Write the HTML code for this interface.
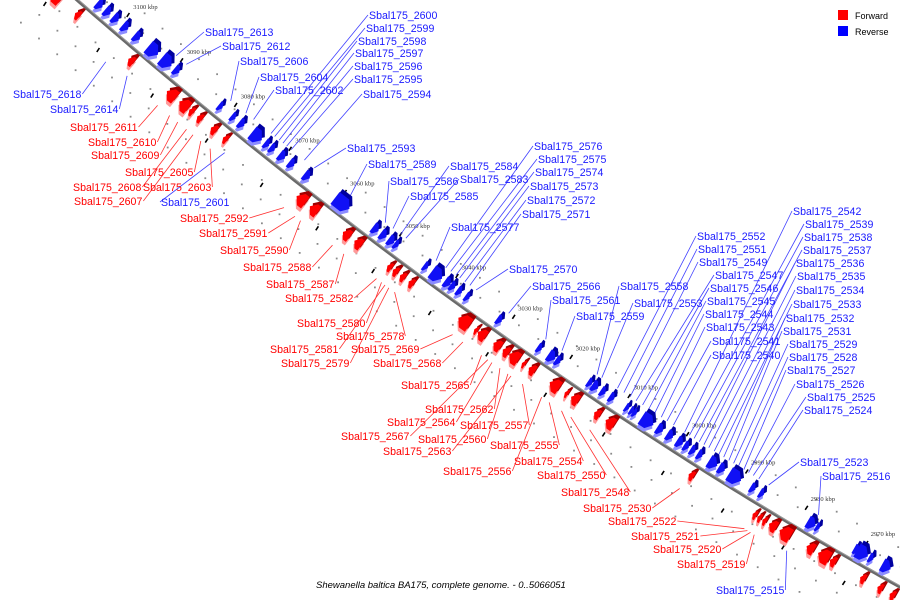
<!DOCTYPE html>
<html><head><meta charset="utf-8">
<style>
html,body{margin:0;padding:0;background:#fff;width:900px;height:600px;overflow:hidden;}
svg{display:block;overflow:hidden;}
.lbl{font-family:"Liberation Sans",sans-serif;font-size:10.6px;}
.tk{font-family:"Liberation Serif",serif;font-size:6.5px;fill:#333;}
</style></head>
<body>
<svg id="chart" width="900" height="600" viewBox="0 0 900 600" xmlns="http://www.w3.org/2000/svg">
<g id="dots"></g>
<g id="axis"></g>
<g id="leaders"></g>
<g id="genes"></g>
<g id="labels"></g>
<g>
<rect x="838" y="10" width="10" height="10" fill="#ff0000"/>
<text x="855" y="19" style="font-family:'Liberation Sans',sans-serif;font-size:9px">Forward</text>
<rect x="838" y="26" width="10" height="10" fill="#0000ff"/>
<text x="855" y="35" style="font-family:'Liberation Sans',sans-serif;font-size:9px">Reverse</text>
</g>
<text x="316" y="588" style="font-family:'Liberation Sans',sans-serif;font-size:9.5px;font-style:italic">Shewanella baltica BA175, complete genome. - 0..5066051</text>
</svg>
<script>
// ---- data ----
const tickKbp = [3110,3100,3090,3080,3070,3060,3050,3040,3030,3020,3010,3000,2990,2980,2970,2960];
const tickLabels = ["3110 kbp","3100 kbp","3090 kbp","3080 kbp","3070 kbp","3060 kbp","3050 kbp","3040 kbp","3030 kbp","3020 kbp","3010 kbp","3000 kbp","2990 kbp","2980 kbp","2970 kbp","2960 kbp"];
const reverseKbp = [3104.0,3102.5,3101.0,3099.2,3097.0,3094.0,3091.5,3089.6,3081.5,3079.1,3077.6,3074.8,3073.0,3072.0,3070.2,3068.5,3065.7,3059.3,3053.3,3051.9,3050.5,3049.6,3044.4,3042.4,3040.5,3039.6,3038.4,3037.0,3031.4,3024.4,3022.3,3021.2,3015.7,3014.8,3013.4,3011.9,3009.3,3008.5,3008.0,3005.8,3003.7,3002.0,3000.3,2999.2,2998.1,2996.9,2994.7,2993.2,2991.0,2988.0,2986.5,2978.2,2977.2,2970.8,2969.8,2968.4,2965.9];
const reverseLen = [1.0,1.0,1.0,1.0,1.0,1.8,1.8,0.9,0.7,0.7,0.9,1.8,0.8,0.8,1.0,0.9,1.0,2.6,1.0,1.0,1.0,0.7,0.7,1.8,1.0,0.8,0.8,0.7,0.8,0.7,1.2,0.8,0.7,1.0,0.8,0.8,0.6,0.6,0.6,2.0,1.0,1.0,1.0,0.8,0.8,0.8,1.4,1.0,2.0,0.8,0.7,1.3,0.6,0.8,1.8,0.7,1.4];
const forwardKbp = [3109.6,3105.5,3095.5,3088.0,3085.7,3084.3,3082.8,3080.2,3078.1,3064.3,3062.0,3056.2,3054.1,3048.5,3047.5,3046.2,3044.7,3035.4,3033.3,3032.3,3029.6,3028.1,3026.7,3025.0,3023.6,3019.7,3017.6,3016.2,3012.4,3010.2,2996.4,2985.8,2985.0,2984.2,2982.8,2980.8,2976.6,2974.4,2972.9,2968.0,2965.2,2963.2];
const forwardLen = [1.8,0.8,0.9,1.6,1.6,0.7,0.8,0.9,0.7,1.6,1.4,1.2,1.2,0.7,0.8,0.8,0.8,1.9,0.5,1.3,1.2,1.0,1.6,0.5,1.0,1.6,0.5,1.2,0.9,1.4,0.8,0.6,0.6,0.6,1.2,1.8,1.2,1.8,0.9,0.8,0.8,0.8];

const blueNames = ["Sbal175_2613","Sbal175_2612","Sbal175_2606","Sbal175_2604","Sbal175_2602","Sbal175_2618","Sbal175_2614","Sbal175_2600","Sbal175_2599","Sbal175_2598","Sbal175_2597","Sbal175_2596","Sbal175_2595","Sbal175_2594","Sbal175_2593","Sbal175_2589","Sbal175_2586","Sbal175_2585","Sbal175_2584","Sbal175_2583","Sbal175_2577","Sbal175_2576","Sbal175_2575","Sbal175_2574","Sbal175_2573","Sbal175_2572","Sbal175_2571","Sbal175_2570","Sbal175_2566","Sbal175_2561","Sbal175_2559","Sbal175_2558","Sbal175_2553","Sbal175_2552","Sbal175_2551","Sbal175_2549","Sbal175_2547","Sbal175_2546","Sbal175_2545","Sbal175_2544","Sbal175_2543","Sbal175_2541","Sbal175_2540","Sbal175_2542","Sbal175_2539","Sbal175_2538","Sbal175_2537","Sbal175_2536","Sbal175_2535","Sbal175_2534","Sbal175_2533","Sbal175_2532","Sbal175_2531","Sbal175_2529","Sbal175_2528","Sbal175_2527","Sbal175_2526","Sbal175_2525","Sbal175_2524","Sbal175_2523","Sbal175_2516","Sbal175_2515","Sbal175_2601"];
const blueX = [205,222,240,260,275,13,50,369,366,358,355,354,354,363,347,368,390,410,450,460,451,534,538,535,530,527,522,509,532,552,576,620,634,697,698,699,715,710,707,705,706,712,712,793,805,804,803,796,797,796,793,786,783,789,789,787,796,807,804,800,822,716,161];
const blueY = [36,50,65,81,94,98,113,19,32,45,57,70,83,98,152,168,185,200,170,183,231,150,163,176,190,204,218,273,290,304,320,290,307,240,253,266,279,292,305,318,331,345,359,215,228,241,254,267,280,294,308,322,335,348,361,374,388,401,414,466,480,594,206];
const blueAnchorKbp = [3091.0,3089.1,3080.9,3078.1,3076.7,3098.1,3094.5,3073.5,3072.8,3072.0,3071.3,3070.6,3069.8,3067.4,3065.6,3059.1,3052.8,3051.4,3050.0,3049.1,3043.7,3042.0,3041.1,3040.2,3039.5,3038.6,3037.7,3036.6,3030.9,3024.4,3021.6,3015.5,3014.7,3012.0,3010.9,3009.8,3008.8,3007.7,3006.6,3005.6,3004.5,3003.5,3002.4,3000.5,2999.7,2998.9,2998.0,2997.2,2996.4,2995.5,2994.7,2993.9,2993.0,2992.2,2991.4,2990.5,2989.7,2988.9,2988.0,2986.3,2978.0,2979.3,3076.9];
const blueAnchorOff = [-22,-22,-22,-22,-22,28,25,-22,-22,-22,-22,-22,-22,-22,-22,-22,-22,-22,-22,-22,-22,-22,-22,-22,-22,-22,-22,-22,-22,-22,-22,-22,-22,-22,-22,-22,-22,-22,-22,-22,-22,-22,-22,-22,-22,-22,-22,-22,-22,-22,-22,-22,-22,-22,-22,-22,-22,-22,-22,-22,-22,25,22];

const redNames = ["Sbal175_2611","Sbal175_2610","Sbal175_2609","Sbal175_2605","Sbal175_2608","Sbal175_2603","Sbal175_2607","Sbal175_2592","Sbal175_2591","Sbal175_2590","Sbal175_2588","Sbal175_2587","Sbal175_2582","Sbal175_2580","Sbal175_2578","Sbal175_2581","Sbal175_2569","Sbal175_2579","Sbal175_2568","Sbal175_2565","Sbal175_2562","Sbal175_2564","Sbal175_2557","Sbal175_2567","Sbal175_2560","Sbal175_2555","Sbal175_2563","Sbal175_2554","Sbal175_2556","Sbal175_2550","Sbal175_2548","Sbal175_2530","Sbal175_2522","Sbal175_2521","Sbal175_2520","Sbal175_2519"];
const redX = [70,88,91,125,73,143,74,180,199,220,243,266,285,297,336,270,351,281,373,401,425,387,460,341,418,490,383,514,443,537,561,583,608,631,653,677];
const redY = [131,146,159,176,191,191,205,222,237,254,271,288,302,327,340,353,353,367,367,389,413,426,429,440,443,449,455,465,475,479,496,512,525,540,553,568];
const redAnchorKbp = [3088.5,3086.3,3084.8,3080.6,3083.2,3078.9,3082.0,3065.5,3063.5,3062.5,3056.8,3054.8,3049.0,3048.1,3045.8,3047.5,3035.6,3046.8,3033.8,3030.6,3027.4,3028.8,3023.5,3029.5,3026.0,3018.9,3025.5,3016.8,3020.2,3015.2,3012.0,2996.8,2986.0,2985.5,2985.0,2984.4];

// ---- axis geometry ----
const A0=-68.16, A1=0.8999, A2=-0.000191;
function yc(x){return A0+A1*x+A2*x*x;}
function slope(x){return A1+2*A2*x;}
const STEP=0.25, arcX=[], arcS=[];
(function(){let s=0;for(let x=0;x<=1100;x+=STEP){arcX.push(x);arcS.push(s);const m=slope(x+STEP/2);s+=STEP*Math.sqrt(1+m*m);}})();
function sAt(x){const i=Math.min(arcX.length-1,Math.max(0,Math.round(x/STEP)));return arcS[i];}
function xAt(s){let lo=0,hi=arcS.length-1;while(hi-lo>1){const mid=(lo+hi)>>1;if(arcS[mid]<s)lo=mid;else hi=mid;}return arcX[lo];}
const S3100=sAt(114), S2970=sAt(856), PXK=(S2970-S3100)/130;
function sOf(k){return S3100+(3100-k)*PXK;}
function pt(k,off){const x=xAt(sOf(k));const m=slope(x);const nrm=Math.sqrt(1+m*m);return {x:x+off*(-m/nrm),y:yc(x)+off*(1/nrm),ang:Math.atan(m)*180/Math.PI};}

const NS="http://www.w3.org/2000/svg";
function mk(tag,attrs,parent){const e=document.createElementNS(NS,tag);for(const k in attrs)e.setAttribute(k,attrs[k]);parent.appendChild(e);return e;}

const axisG=document.getElementById('axis');
let d="";for(let x=55;x<=905;x+=5){d+=(x===55?"M":"L")+x+","+yc(x).toFixed(2);}
const ax1=mk('path',{d:d,fill:"none",stroke:"#6a6a6a","stroke-width":3.2},axisG);


const ax2=mk('path',{d:d,fill:"none",stroke:"#9a9a9a","stroke-width":1,transform:"translate(0.6,-0.9)"},axisG);



const dotsG=document.getElementById('dots');
tickKbp.forEach((k,i)=>{
  const p=pt(k,-30);
  const t=mk('text',{x:p.x.toFixed(1),y:p.y.toFixed(1),class:"tk"},axisG);
  t.textContent=tickLabels[i];
  
  
  [[-22],[24]].forEach(o=>{
    const q=pt(k,o[0]);
    const l=mk('line',{x1:(q.x-1.3).toFixed(1),y1:(q.y+2).toFixed(1),x2:(q.x+1.3).toFixed(1),y2:(q.y-2).toFixed(1),stroke:"#000","stroke-width":1.6},axisG);
    
    
  });
});
[[-34,0],[-18,1.7],[20,0.8],[36,2.4],[54,1.2]].forEach(r=>{
  for(let k=3112-r[1];k>2957;k-=3.4){
    const p=pt(k,r[0]);
    const c=mk('rect',{x:(p.x-0.9).toFixed(1),y:(p.y-0.9).toFixed(1),width:1.8,height:1.8,fill:"#8a8a8a"},dotsG);
    
    
  }
});

const genesG=document.getElementById('genes');
function gene(k,len,fwd,idx){
  const off=fwd?11:-11;
  const p=pt(k,off);
  const L=len*PXK, h=Math.min(15,7+len*4.5), hl=Math.min(L*0.55,6);
  let pts;
  if(fwd) pts=[[-L/2,0],[-L/2+hl,-h/2],[L/2,-h/2],[L/2,h/2],[-L/2+hl,h/2]];
  else pts=[[-L/2,-h/2],[L/2-hl,-h/2],[L/2,0],[L/2-hl,h/2],[-L/2,h/2]];
  const ps=pts.map(a=>a[0].toFixed(1)+","+a[1].toFixed(1)).join(" ");
  const g=mk('g',{},genesG);
  
  
  const cols=fwd?["#ff9a9a","#a00000","#ff0000"]:["#8c8cff","#0000a0","#1010f5"];
  const sh=[[-1,3.5],[3,-3],[0,0]];
  for(let j=0;j<3;j++){
    mk('polygon',{points:ps,fill:cols[j],transform:"translate("+(p.x+sh[j][0]).toFixed(1)+","+(p.y+sh[j][1]).toFixed(1)+") rotate("+p.ang.toFixed(2)+")"},g);
  }
}
reverseKbp.forEach((k,i)=>gene(k,reverseLen[i],false,i));
forwardKbp.forEach((k,i)=>gene(k,forwardLen[i],true,i));

const labG=document.getElementById('labels'), leadG=document.getElementById('leaders');
blueNames.forEach((n,i)=>{
  const t=mk('text',{x:blueX[i],y:blueY[i],class:"lbl",fill:"#1a1aff"},labG);
  t.textContent=n;
  
  
  const a=pt(blueAnchorKbp[i],blueAnchorOff[i]);
  const w=t.getComputedTextLength();
  let sx=blueX[i]-1, sy=blueY[i]-4;
  if(a.x>blueX[i]+w){sx=blueX[i]+w+1;}
  const l=mk('line',{x1:sx,y1:sy,x2:a.x.toFixed(1),y2:a.y.toFixed(1),stroke:"#4040ff","stroke-width":0.8},leadG);
  
  
});
redNames.forEach((n,i)=>{
  const t=mk('text',{x:redX[i],y:redY[i],class:"lbl",fill:"#ff0000"},labG);
  t.textContent=n;
  
  
  const w=t.getComputedTextLength();
  const a=pt(redAnchorKbp[i],28);
  const l=mk('line',{x1:redX[i]+w+1,y1:redY[i]-4,x2:a.x.toFixed(1),y2:a.y.toFixed(1),stroke:"#ff3030","stroke-width":0.8},leadG);
  
  
});
</script>
</body></html>
